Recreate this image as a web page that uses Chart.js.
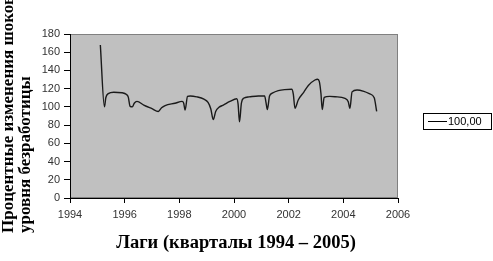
<!DOCTYPE html>
<html>
<head>
<meta charset="utf-8">
<script src="https://cdn.jsdelivr.net/npm/chart.js@4/dist/chart.umd.min.js"></script>
<style>html,body{margin:0;padding:0;background:#fff;}</style>
</head>
<body>
<canvas id="c" width="493" height="261"></canvas>
<script>
// данные (квартальные лаги)
const years=[1995.11,1995.26,1995.31,1995.40,1995.60,1995.90,1996.07,1996.13,1996.20,1996.28,1996.35,1996.45,1996.70,1997.00,1997.23,
  1997.35,1997.48,1997.84,1998.10,1998.16,1998.21,1998.30,1998.40,1998.64,1998.90,1999.05,1999.15,1999.24,1999.33,1999.45,
  1999.61,1999.85,2000.10,2000.15,2000.20,2000.27,2000.35,2000.55,2000.89,2001.12,2001.17,2001.22,2001.30,2001.40,2001.62,
  2001.85,2002.11,2002.17,2002.23,2002.35,2002.55,2002.72,2002.96,2003.06,2003.12,2003.18,2003.23,2003.30,2003.50,2003.70,
  2004.06,2004.18,2004.24,2004.32,2004.50,2004.75,2004.95,2005.13,2005.22];
const values=[168,100,110,114.5,116,115.5,113.5,111,100.5,100,104,106,102,98,95,
  99,101.5,104,106,104,96.5,111.5,112,111,108.5,105,98,86,95,99.5,
  102,106,109,103,83.5,104,109.5,111,112,112,105,97,112,115,117.8,
  119,119.3,114,98.5,107.6,116,123.5,129.5,130.3,128,115,97,110.5,111.5,111.2,
  109.4,105.7,98.4,116.5,118.5,117,114.5,110,95];
const seriesName="100,00";
const xMin=1994, xMax=2006, xStep=2;
const yMin=0, yMax=180, yStep=20;
const yTitle=["Процентные изменения шоков","уровня безработицы"];
const xTitle="Лаги (кварталы 1994 – 2005)";

const decor={
  id:'decor',
  beforeDraw(chart){
    const {ctx,chartArea:a}=chart;
    ctx.save();
    ctx.fillStyle='#c0c0c0';
    ctx.fillRect(a.left,a.top,a.right-a.left,a.bottom-a.top);
    ctx.strokeStyle='#808080';
    ctx.lineWidth=1;
    ctx.strokeRect(a.left+0.5,a.top+0.5,a.right-a.left-1,a.bottom-a.top-1);
    ctx.restore();
  },
  afterDraw(chart){
    const ctx=chart.ctx;
    ctx.save();
    // подпись оси Y
    ctx.fillStyle='#000';
    ctx.font='bold 17px "Liberation Serif"';
    ctx.textAlign='left';
    ctx.textBaseline='middle';
    ctx.translate(0,233);
    ctx.rotate(-Math.PI/2);
    ctx.fillText(yTitle[0],0,9);
    ctx.fillText(yTitle[1],0,26);
    ctx.restore();
    // подпись оси X
    ctx.save();
    ctx.fillStyle='#000';
    ctx.font='bold 18.5px "Liberation Serif"';
    ctx.textAlign='center';
    ctx.textBaseline='middle';
    ctx.fillText(xTitle,236,243);
    ctx.restore();
    // легенда
    ctx.save();
    ctx.strokeStyle='#000';
    ctx.lineWidth=1;
    ctx.fillStyle='#fff';
    ctx.fillRect(423,113,69,16);
    ctx.strokeRect(423.5,113.5,68,16);
    ctx.beginPath();
    ctx.moveTo(428,121.5);ctx.lineTo(447,121.5);
    ctx.stroke();
    ctx.fillStyle='#000';
    ctx.font='11px Arial';
    ctx.textBaseline='middle';
    ctx.fillText(seriesName,448,122);
    ctx.restore();
  }
};

new Chart(document.getElementById('c'),{
  type:'line',
  data:{datasets:[{
    label:seriesName,
    data:years.map((x,i)=>({x:x,y:values[i]})),
    borderColor:'#1a1a1a',
    borderWidth:1.4,
    pointRadius:0,
    cubicInterpolationMode:'monotone',
    fill:false
  }]},
  options:{
    responsive:false,
    animation:false,
    devicePixelRatio:1,
    layout:{padding:{top:34,right:95,left:0,bottom:0}},
    plugins:{legend:{display:false},tooltip:{enabled:false}},
    scales:{
      x:{type:'linear',min:xMin,max:xMax,
        ticks:{stepSize:xStep,color:'#333',font:{family:'Arial',size:11},padding:5,maxRotation:0,callback:v=>String(v)},
        grid:{drawOnChartArea:false,tickLength:5,color:'#000'},
        border:{color:'#000'},
        afterFit:s=>{s.height=63;}},
      y:{min:yMin,max:yMax,
        ticks:{stepSize:yStep,color:'#333',font:{family:'Arial',size:11},padding:4},
        grid:{drawOnChartArea:false,tickLength:6,color:'#000'},
        border:{color:'#000'},
        afterFit:s=>{s.width=70;}}
    }
  },
  plugins:[decor]
});
</script>
</body>
</html>
